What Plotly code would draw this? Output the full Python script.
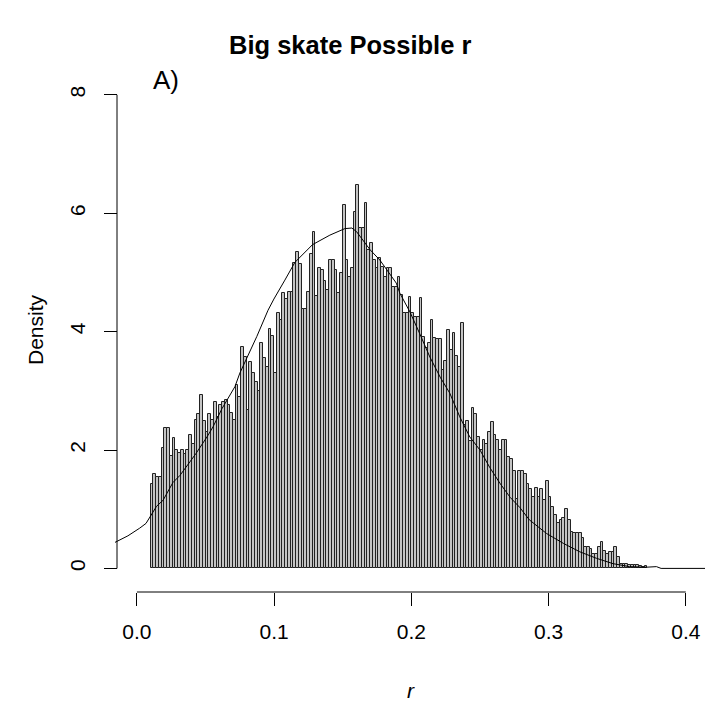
import numpy as np
import plotly.graph_objects as go

# ---------------- data ----------------
bin_start = 0.010
bin_width = 0.002
density = [
    1.43, 1.60, 1.55, 1.55, 2.03, 2.38, 2.38, 1.90, 2.20, 2.00,
    1.95, 2.00, 1.94, 2.00, 2.25, 2.10, 2.50, 2.60, 2.93, 2.49,
    2.30, 2.60, 2.50, 2.81, 2.55, 2.76, 2.81, 2.84, 2.76, 2.62,
    2.50, 3.10, 2.90, 3.74, 3.57, 2.67, 3.49, 3.30, 3.15, 3.00,
    3.81, 3.55, 3.40, 4.04, 3.92, 3.30, 4.31, 4.19, 4.65, 4.55,
    4.67, 4.67, 5.16, 5.35, 5.14, 4.38, 4.38, 4.67, 5.31, 5.69,
    4.60, 5.07, 5.04, 4.85, 4.70, 5.21, 5.21, 5.04, 4.65, 4.99,
    6.14, 5.21, 4.93, 5.07, 6.02, 6.48, 5.75, 5.75, 6.17, 5.38,
    5.49, 5.21, 5.07, 5.24, 5.10, 4.93, 5.07, 5.07, 4.76, 4.76,
    4.92, 4.62, 4.31, 4.31, 4.59, 4.31, 4.25, 4.25, 4.56, 3.91,
    3.72, 3.80, 4.19, 3.89, 3.87, 3.87, 3.35, 3.50, 4.03, 3.69,
    3.98, 3.59, 3.40, 4.15, 2.42, 2.49, 2.15, 2.71, 2.60, 2.22,
    2.00, 2.17, 2.10, 2.30, 2.47, 2.25, 2.17, 2.00, 2.17, 2.17,
    1.88, 1.84, 1.64, 1.17, 1.64, 1.64, 1.60, 1.43, 1.34, 1.20,
    1.35, 1.20, 1.34, 1.15, 1.48, 1.20, 1.04, 0.90, 0.76, 0.81,
    0.85, 1.00, 0.81, 0.61, 0.60, 0.60, 0.59, 0.51, 0.36, 0.36,
    0.32, 0.25, 0.25, 0.36, 0.44, 0.30, 0.25, 0.28, 0.28, 0.37,
    0.20, 0.08, 0.08, 0.08, 0.06, 0.06, 0.05, 0.06, 0.04, 0.03,
    0.04,
]

curve_r = [-0.016, -0.0066, 0.002, 0.0066, 0.0143, 0.019, 0.0262, 0.0313, 0.0386, 0.043,
           0.051, 0.0554, 0.062, 0.0714, 0.075, 0.083, 0.0874, 0.0955, 0.0998, 0.1078,
           0.1151, 0.128, 0.1406, 0.1515, 0.1566, 0.160, 0.170, 0.177, 0.189, 0.1916,
           0.199, 0.206, 0.2135, 0.221, 0.228, 0.2353, 0.2426, 0.25, 0.257, 0.2645,
           0.272, 0.279, 0.286, 0.2985, 0.311, 0.3228, 0.335, 0.347, 0.359, 0.371,
           0.3786, 0.382, 0.414]
curve_d = [0.44, 0.55, 0.68, 0.76, 1.05, 1.15, 1.45, 1.57, 1.80, 1.94,
           2.22, 2.39, 2.70, 3.07, 3.30, 3.69, 3.92, 4.36, 4.55, 4.87,
           5.17, 5.47, 5.63, 5.74, 5.75, 5.69, 5.38, 5.21, 4.82, 4.65,
           4.33, 3.97, 3.57, 3.23, 2.96, 2.56, 2.22, 2.00, 1.71, 1.44,
           1.20, 1.03, 0.82, 0.59, 0.42, 0.28, 0.17, 0.08, 0.03, 0.02,
           0.03, 0.0, 0.0]

x_ticks = [0.0, 0.1, 0.2, 0.3, 0.4]
x_tick_labels = ["0.0", "0.1", "0.2", "0.3", "0.4"]
y_ticks = [0, 2, 4, 6, 8]
y_tick_labels = ["0", "2", "4", "6", "8"]

title_text = "Big skate Possible r"
panel_label = "A)"
x_title = "r"
y_title = "Density"

# ---------------- layout geometry ----------------
W, H = 706, 703
L, R, T, B = 115, 1, 83, 105
x_range = [-0.016, 0.414]
y_range = [-0.5, 8.2]
PW, PH = W - L - R, H - T - B


def px_x(p):
    return (p - L) / PW


def px_y(p):
    return (H - B - p) / PH


FONT = "Liberation Sans, Arial, sans-serif"
BASE = 21

centers = bin_start + bin_width * (np.arange(len(density)) + 0.5)

fig = go.Figure()
fig.add_trace(go.Bar(
    x=centers, y=density, width=bin_width,
    marker=dict(color="#c4c4c4", line=dict(color="#222222", width=1)),
    showlegend=False, hoverinfo="skip",
))
fig.add_trace(go.Scatter(
    x=curve_r, y=curve_d, mode="lines",
    line=dict(color="black", width=1), showlegend=False, hoverinfo="skip",
))

x_axis_pos = px_y(592)
y_axis_pos = px_x(117)


def label(text, x, y, size, angle=0):
    return dict(text=text, xref="paper", yref="paper",
                x=px_x(x), y=px_y(y), xanchor="center", yanchor="middle",
                showarrow=False, textangle=angle,
                font=dict(size=size, family=FONT, color="black"))


fig.update_layout(
    width=W, height=H,
    margin=dict(l=L, r=R, t=T, b=B, pad=0),
    paper_bgcolor="white", plot_bgcolor="white",
    bargap=0,
    font=dict(family=FONT, color="black"),
    xaxis=dict(
        range=x_range, tickvals=x_ticks, ticktext=x_tick_labels,
        ticks="outside", ticklen=13, tickwidth=1, tickcolor="black",
        showline=False, showgrid=False, zeroline=False,
        anchor="free", position=x_axis_pos,
        ticklabelstandoff=8,
        tickfont=dict(size=BASE, family=FONT, color="black"),
    ),
    yaxis=dict(
        range=y_range, tickvals=y_ticks, ticktext=y_tick_labels,
        ticks="outside", ticklen=13, tickwidth=1, tickcolor="black",
        showline=False, showgrid=False, zeroline=False,
        anchor="free", position=y_axis_pos,
        tickangle=-90, ticklabelstandoff=11,
        tickfont=dict(size=BASE, family=FONT, color="black"),
    ),
    shapes=[
        dict(type="line", xref="x", yref="paper",
             x0=x_ticks[0], x1=x_ticks[-1], y0=x_axis_pos, y1=x_axis_pos,
             line=dict(color="black", width=1)),
        dict(type="line", xref="paper", yref="y",
             x0=y_axis_pos, x1=y_axis_pos, y0=y_ticks[0], y1=y_ticks[-1],
             line=dict(color="black", width=1)),
    ],
    annotations=[
        label("<b>" + title_text + "</b>", 350, 45, 25.5),
        label(panel_label, 166, 80, 26),
        label(y_title, 35, 330, BASE, -90),
        label("<i>" + x_title + "</i>", 411, 690, BASE),
    ],
)

fig.write_html("out.html", config={"displayModeBar": False},
               post_script="document.body.style.margin='0px';")
